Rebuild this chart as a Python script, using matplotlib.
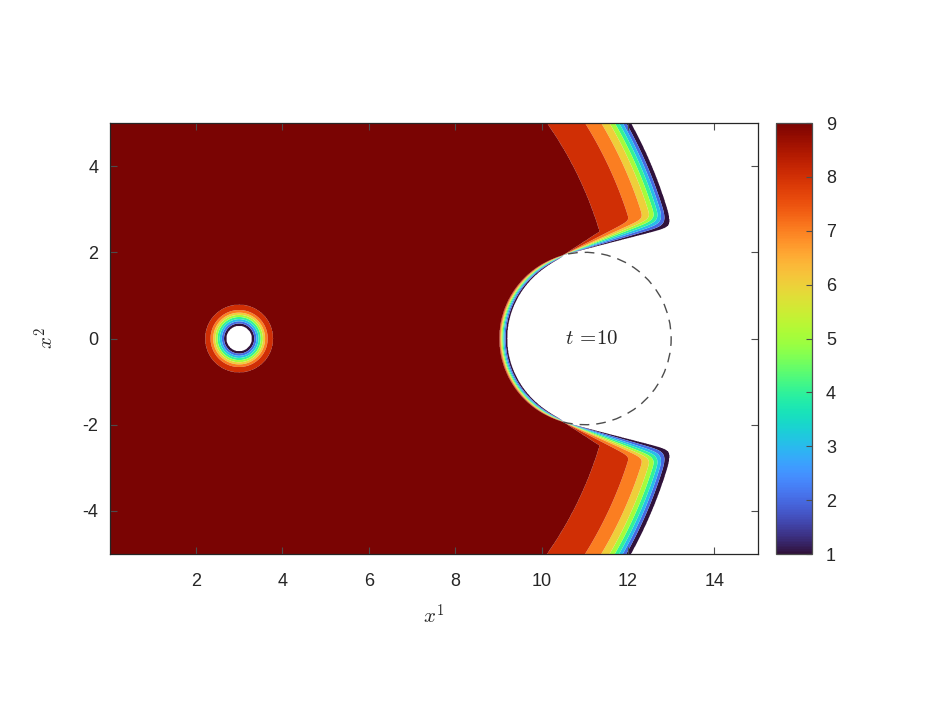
import numpy as np
import matplotlib
matplotlib.use("Agg")
import matplotlib.pyplot as plt
from matplotlib import patches
from matplotlib.colors import Normalize
from matplotlib.cm import ScalarMappable

plt.rcParams['font.family'] = ['Liberation Sans', 'DejaVu Sans']
plt.rcParams['mathtext.fontset'] = 'cm'

# contour levels and colours (lower level of each band)
levels = [1, 2, 3, 4, 5, 6, 7, 8, 9]
cmap = plt.get_cmap('turbo')

# geometry of the problem
source = (3.0, 0.0)
obstacle = (11.0, 0.0)
obstacle_r = 2.0
front_r = 10.36          # t = 10 front, distance from source

# radius at which each level is crossed around the source
ring_radii = [0.29, 0.35, 0.40, 0.45, 0.50, 0.55, 0.60, 0.66, 0.79]
# depth behind the front at which each level is crossed
front_depth = [0.0, 0.10, 0.17, 0.245, 0.331, 0.435, 0.60, 0.92, 1.66]
# angle above the shadow line (deg) at which each level is crossed
fan_angles = [0.0, 1.6, 3.2, 4.8, 6.4, 8.0, 9.8, 12.8, 18.7]
# fraction of the band hugging the lit side of the obstacle
circle_depth = [0.0, 0.22, 0.36, 0.49, 0.61, 0.72, 0.82, 0.91, 1.0]
circle_band = 0.19       # band width on the lit side of the obstacle
circle_inset = 0.21

xticks = [2, 4, 6, 8, 10, 12, 14]
yticks = [-4, -2, 0, 2, 4]
cticks = levels

# ---- field
xs = np.linspace(0, 15, 1501)
ys = np.linspace(-5, 5, 1001)
X, Y = np.meshgrid(xs, ys)
ay = np.abs(Y)

r_src = np.hypot(X - source[0], Y - source[1])
f_src = np.interp(r_src, ring_radii, levels, left=0, right=10)

s_front = front_r - r_src

d = obstacle[0] - source[0]
alpha = np.arcsin(obstacle_r / d)
tlen = np.sqrt(d**2 - obstacle_r**2)
tx = source[0] + tlen * np.cos(alpha)
ty = tlen * np.sin(alpha)
vx, vy = X - tx, ay - ty
along = vx * np.cos(alpha) + vy * np.sin(alpha)
perp = -vx * np.sin(alpha) + vy * np.cos(alpha)
dth = np.degrees(np.arctan2(perp, along))
s_fan = np.interp(dth, fan_angles, front_depth, left=-1.0, right=50.0)
s_shadow = np.where(dth > -90, s_fan, 50.0)

k = 0.12
S = np.stack([np.clip(s, -5, 50) for s in (s_front, s_shadow)])
s_all = -k * np.log(np.exp(-S / k).sum(axis=0))
f_front = np.interp(s_all, front_depth, levels, left=0, right=10)

rc = np.hypot(X - obstacle[0], ay)
phi = np.arctan2(ay, X - obstacle[0])
g = np.sqrt(np.clip((-np.cos(phi) - np.sin(alpha)) / (1 - np.sin(alpha)), 0, 1))
r_in = obstacle_r - circle_inset * g
u_circle = (rc - r_in) / (np.maximum(g, 1e-4) * circle_band)
u_circle = np.clip(u_circle, -5, 50)
f_circle = np.interp(u_circle, circle_depth, levels, left=0, right=10)

F = np.minimum(np.minimum(f_src, f_front), f_circle)

# ---- figure
fig = plt.figure(figsize=(9.37, 7.03), dpi=100)
ax = fig.add_axes([0.1169, 0.2119, 0.6916, 0.6131])
cax = fig.add_axes([0.8282, 0.2119, 0.0384, 0.6131])

band_colors = [cmap((lv - 1) / 8) for lv in levels]
ax.contourf(X, Y, F, levels=levels + [11], colors=band_colors, antialiased=True)

th = np.degrees(np.pi / 2 + alpha)
arc = patches.Arc(obstacle, 2 * obstacle_r, 2 * obstacle_r, theta1=-th, theta2=th,
                  color='0.3', lw=1.0, ls=(0, (7, 5)), zorder=3)
ax.add_patch(arc)
ax.text(11.15, 0, r'$t\,=\!10$', fontsize=15, ha='center', va='center', color='0.15')

ax.set_xlim(0, 15)
ax.set_ylim(-5, 5)
ax.set_xticks(xticks)
ax.set_yticks(yticks)
ax.set_yticklabels([str(v) for v in yticks])
ax.tick_params(direction='in', top=True, right=True, length=5, width=0.8,
               color='0.3', labelsize=13, labelcolor='0.15')
ax.tick_params(axis='x', pad=14)
ax.tick_params(axis='y', pad=8)
for sp in ax.spines.values():
    sp.set_color('0.15')
    sp.set_linewidth(0.9)
ax.set_xlabel(r'$x^1$', fontsize=15, color='0.15')
ax.set_ylabel(r'$x^2$', fontsize=15, color='0.15')
ax.xaxis.set_label_coords(0.5, -0.115)
ax.yaxis.set_label_coords(-0.08, 0.5)

sm = ScalarMappable(norm=Normalize(1, 9), cmap=cmap)
cb = fig.colorbar(sm, cax=cax, ticks=cticks)
cb.ax.tick_params(direction='in', length=4, width=0.8, color='0.3',
                  labelsize=13, labelcolor='0.15', pad=10)
cb.outline.set_edgecolor('0.3')
cb.outline.set_linewidth(0.9)

fig.savefig('out.png', dpi=100)
